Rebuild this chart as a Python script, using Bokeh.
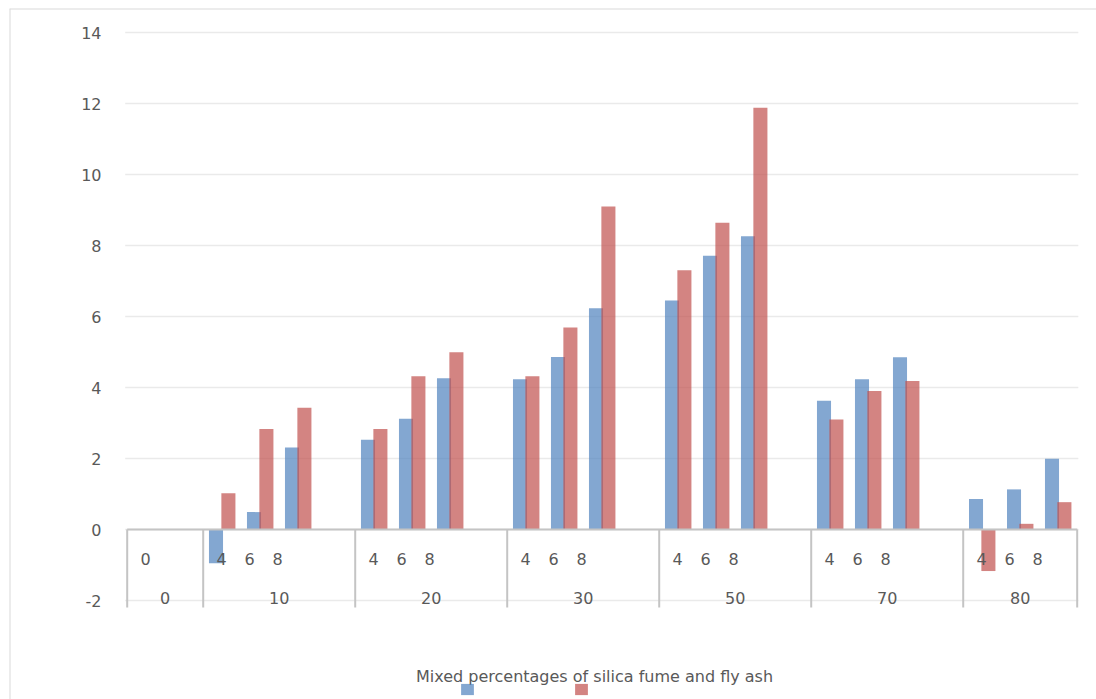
from bokeh.plotting import figure
from bokeh.models import ColumnDataSource, Range1d, Span, Legend, LegendItem
from bokeh.core.properties import value
from bokeh.embed import file_html
from bokeh.resources import INLINE

# Category axis: silica fume / fly ash mix (outer) and sub-percentage (inner).
# Empty labels are the spacer rows between groups.
group_names = ["0", "10", "20", "30", "50", "70", "80"]
sub_labels = [
    ["0", ""],
    ["4", "6", "8", ""],
    ["4", "6", "8", ""],
    ["4", "6", "8", ""],
    ["4", "6", "8", ""],
    ["4", "6", "8", ""],
    ["4", "6", "8"],
]
blue_values = [
    [0.0, None],
    [-0.95, 0.49, 2.31, None],
    [2.53, 3.12, 4.26, None],
    [4.23, 4.86, 6.23, None],
    [6.45, 7.71, 8.26, None],
    [3.63, 4.23, 4.85, None],
    [0.86, 1.13, 1.99],
]
red_values = [
    [0.0, None],
    [1.02, 2.83, 3.43, None],
    [2.83, 4.32, 4.99, None],
    [4.32, 5.69, 9.10, None],
    [7.30, 8.64, 11.88, None],
    [3.10, 3.90, 4.18, None],
    [-1.17, 0.16, 0.77],
]
y_ticks = [-2, 0, 2, 4, 6, 8, 10, 12, 14]
x_title = "Mixed percentages of silica fume and fly ash"

# ---- layout in pixels -> data units ----
W, H = 1096, 699
FRAME_L, FRAME_T = 9, 8
SLOT_PX = 38.0          # width of one category slot
X0_PX = 126.7           # left edge of the category axis
Y0_PX = 529.0           # pixel row of value 0
UNIT_PX = 35.5          # pixels per value unit
LABEL_STEP = 28.0 / SLOT_PX   # inner labels are packed tighter than the slots
LABEL_OFF = 18.5 / SLOT_PX


def xd(px):
    return (px - X0_PX) / SLOT_PX


def yd(py):
    return (Y0_PX - py) / UNIT_PX


FONT = "DejaVu Sans"
FSIZE = "16px"
TXT = "#595959"
BLUE = "#4F81BD"
RED = "#C0504D"

# flatten categories into slots
slot_x, slot_sub = [], []
bx, btop, rx, rtop = [], [], [], []
group_bounds = [0]
group_mid = []
i = 0
for g, subs, bv, rv in zip(group_names, sub_labels, blue_values, red_values):
    start = i
    for k, (s, b, r) in enumerate(zip(subs, bv, rv)):
        c = i + 0.5
        if s:
            slot_x.append(start + LABEL_OFF + LABEL_STEP * k)
            slot_sub.append(s)
        if b is not None:
            bx.append(c - 0.163)
            btop.append(b)
        if r is not None:
            rx.append(c + 0.163)
            rtop.append(r)
        i += 1
    group_bounds.append(i)
    group_mid.append((start + i) / 2)
n_slots = i

p = figure(
    width=W, height=H,
    x_range=Range1d(xd(FRAME_L), xd(W)),
    y_range=Range1d(yd(H), yd(FRAME_T)),
    x_axis_location=None, y_axis_location=None,
    toolbar_location=None, output_backend="svg",
    min_border_left=FRAME_L, min_border_top=FRAME_T,
    min_border_right=0, min_border_bottom=0,
)
p.outline_line_color = None
p.grid.visible = False
p.background_fill_color = "white"
p.border_fill_color = "white"

# chart border (top and left edges)
p.add_layout(Span(location=xd(FRAME_L), dimension="height", line_color="#D9D9D9", line_width=2))
p.add_layout(Span(location=yd(FRAME_T), dimension="width", line_color="#D9D9D9", line_width=2))

# horizontal gridlines
gx0 = [xd(X0_PX - 2)] * len(y_ticks)
gx1 = [n_slots + 0.03] * len(y_ticks)
p.segment(x0=gx0, y0=y_ticks, x1=gx1, y1=y_ticks, line_color="#EAEAEA", line_width=1.3)

# y tick labels
p.text(x=[xd(101)] * len(y_ticks), y=y_ticks, text=[str(t) for t in y_ticks],
       text_align="right", text_baseline="middle", text_font=value(FONT),
       text_font_size=FSIZE, text_color=TXT)

# bars
src_b = ColumnDataSource(dict(x=bx, top=btop))
src_r = ColumnDataSource(dict(x=rx, top=rtop))
rb = p.vbar(x="x", top="top", bottom=0, width=0.37, source=src_b,
            fill_color=BLUE, fill_alpha=0.7, line_color=None)
rr = p.vbar(x="x", top="top", bottom=0, width=0.37, source=src_r,
            fill_color=RED, fill_alpha=0.7, line_color=None)

# category axis line and group separators
p.segment(x0=[0], y0=[0], x1=[n_slots], y1=[0], line_color="#C4C4C4", line_width=2)
sep_bottom = yd(607)
p.segment(x0=group_bounds, y0=[0] * len(group_bounds), x1=group_bounds,
          y1=[sep_bottom] * len(group_bounds), line_color="#C4C4C4", line_width=2)

# inner and outer category labels
p.text(x=slot_x, y=[yd(558)] * len(slot_x), text=slot_sub,
       text_align="center", text_baseline="middle", text_font=value(FONT),
       text_font_size=FSIZE, text_color=TXT)
p.text(x=group_mid, y=[yd(597)] * len(group_mid), text=group_names,
       text_align="center", text_baseline="middle", text_font=value(FONT),
       text_font_size=FSIZE, text_color=TXT)

# axis title
p.text(x=[xd(594)], y=[yd(676)], text=[x_title], text_align="center",
       text_baseline="middle", text_font=value(FONT), text_font_size=FSIZE,
       text_color=TXT)

# legend keys (series have no names)
legend = Legend(
    items=[LegendItem(label=value(""), renderers=[rb]),
           LegendItem(label=value(""), renderers=[rr])],
    orientation="horizontal", location=(450, 3),
    glyph_width=16, glyph_height=14, label_width=0, label_standoff=0,
    label_height=14, spacing=98, padding=0, margin=0,
    border_line_color=None, background_fill_alpha=0,
    label_text_font_size="1px",
)
p.add_layout(legend)

open("out.html", "w").write(file_html(p, INLINE))
